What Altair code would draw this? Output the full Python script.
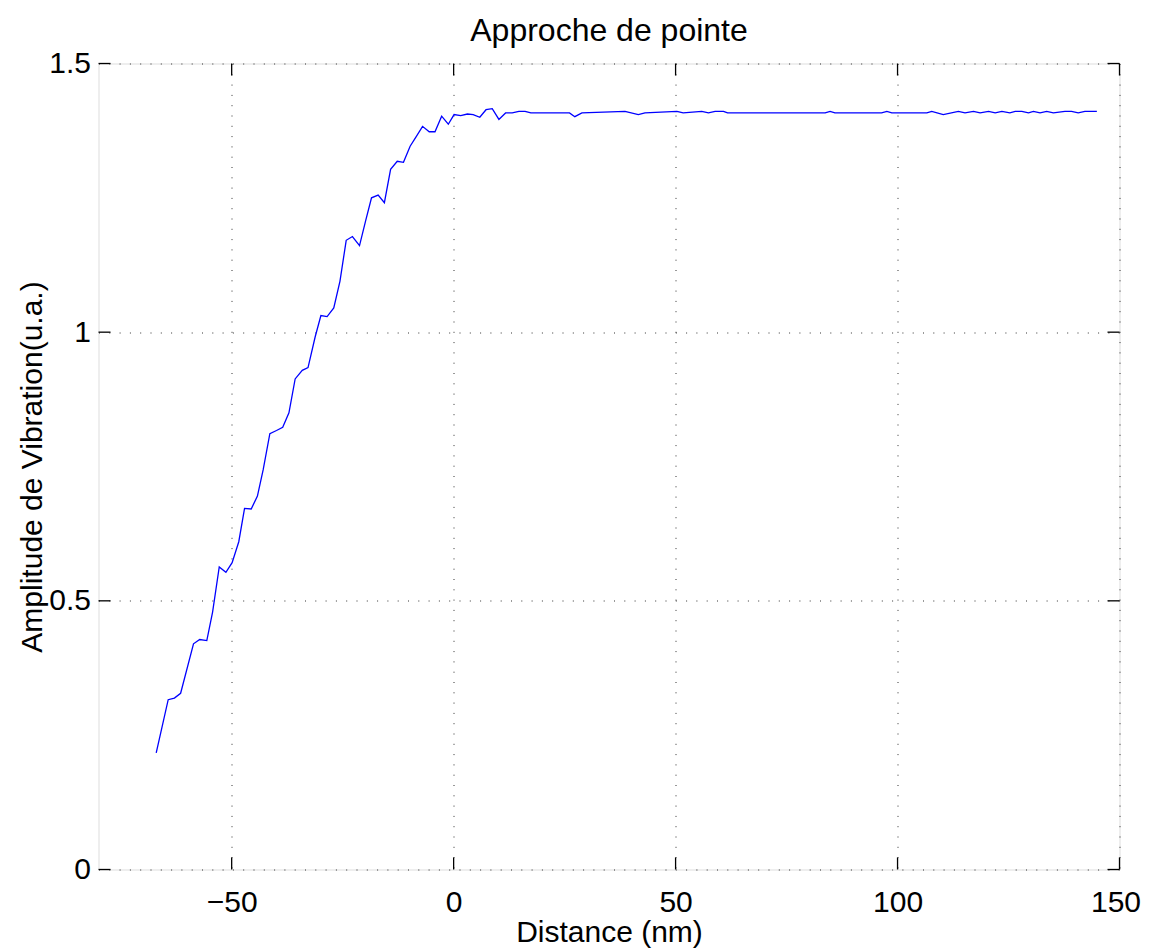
import altair as alt
import pandas as pd

# Data
distance_nm = [-67.0, -64.3, -62.9, -61.5, -58.6, -57.2, -55.6, -54.3, -52.8, -51.3,
               -49.9, -48.4, -47.1, -45.6, -44.2, -42.9, -41.4, -39.9, -38.5, -37.1,
               -35.7, -34.1, -32.8, -31.2, -29.9, -28.5, -27.0, -25.6, -24.2, -22.8,
               -21.2, -19.8, -18.5, -17.0, -15.6, -14.2, -12.7, -11.3, -9.8, -8.5,
               -7.0, -5.5, -4.2, -2.7, -1.2, 0.1, 1.6, 3.1, 4.4, 5.9,
               7.3, 8.7, 10.2, 11.7, 13.2, 14.7, 16.1, 17.4, 26.1, 27.3,
               28.9, 38.6, 41.6, 43.1, 50.3, 51.7, 55.9, 57.4, 58.9, 60.8,
               61.7, 83.7, 84.8, 85.9, 96.4, 97.6, 98.7, 106.6, 107.7, 110.3,
               113.7, 115.2, 117.1, 118.6, 120.5, 122.0, 123.5, 125.3, 126.5, 128.0,
               129.5, 130.6, 132.1, 133.6, 135.1, 137.7, 139.2, 140.7, 142.2, 144.9]
amplitude = [0.217, 0.316, 0.319, 0.328, 0.420, 0.428, 0.426, 0.479, 0.563, 0.553,
             0.571, 0.610, 0.672, 0.671, 0.695, 0.744, 0.811, 0.817, 0.823, 0.850,
             0.913, 0.929, 0.934, 0.991, 1.031, 1.029, 1.045, 1.095, 1.171, 1.178,
             1.161, 1.208, 1.250, 1.255, 1.241, 1.303, 1.318, 1.316, 1.346, 1.363,
             1.383, 1.373, 1.373, 1.402, 1.387, 1.405, 1.403, 1.406, 1.405, 1.400,
             1.414, 1.416, 1.396, 1.408, 1.408, 1.411, 1.411, 1.408, 1.408, 1.401,
             1.408, 1.411, 1.405, 1.408, 1.411, 1.408, 1.411, 1.408, 1.411, 1.411,
             1.408, 1.408, 1.411, 1.408, 1.408, 1.411, 1.408, 1.408, 1.411, 1.405,
             1.411, 1.408, 1.411, 1.408, 1.411, 1.408, 1.411, 1.408, 1.411, 1.411,
             1.408, 1.411, 1.408, 1.411, 1.408, 1.411, 1.411, 1.408, 1.411, 1.411]
x_ticks = [-50, 0, 50, 100, 150]
y_ticks = [0, 0.5, 1, 1.5]
title_text = ["Approche de pointe"]

W, H = 1021, 806
TICK = 12
FONT = "Liberation Sans"

df = pd.DataFrame({"x": distance_nm, "y": amplitude})
xt = pd.DataFrame({"x": x_ticks})
yt = pd.DataFrame({"y": y_ticks})
tt = pd.DataFrame({"t": title_text})

xscale = alt.Scale(domain=[-80, 150], nice=False, zero=False)
yscale = alt.Scale(domain=[0, 1.5], nice=False, zero=False)

xaxis = alt.Axis(values=x_ticks, format="d", grid=True, gridColor="#000000",
                 gridDash=[1, 9.3], gridWidth=1, gridOpacity=0.8,
                 ticks=False, tickSize=0, domain=False,
                 labelFont=FONT, labelFontSize=30, labelColor="#000000",
                 labelPadding=18, labelFlush=False,
                 labelOffset={"condition": {"test": "datum.value == 150", "value": -4},
                              "value": 0},
                 title="Distance (nm)", titleFont=FONT, titleFontSize=30,
                 titleFontWeight="normal", titleColor="#000000",
                 titleBaseline="alphabetic", titleY=72, titleX=W / 2)
yaxis = alt.Axis(values=y_ticks, format="~g", grid=True, gridColor="#000000",
                 gridDash=[1, 9.3], gridWidth=1, gridOpacity=0.8,
                 ticks=False, tickSize=0, domain=False,
                 labelFont=FONT, labelFontSize=30, labelColor="#000000",
                 labelPadding=8, labelFlush=False,
                 title="Amplitude de Vibration(u.a.)", titleFont=FONT,
                 titleFontSize=30, titleFontWeight="normal", titleColor="#000000",
                 titleAngle=-90, titleBaseline="alphabetic",
                 titleX=-57, titleY=H / 2, titleAlign="center")

line = alt.Chart(df).mark_line(color="#0000ff", strokeWidth=1.3).encode(
    x=alt.X("x:Q", scale=xscale, axis=xaxis),
    y=alt.Y("y:Q", scale=yscale, axis=yaxis),
)

tick_style = dict(color="#000000", strokeWidth=1.3)
bottom_ticks = alt.Chart(xt).mark_rule(**tick_style).encode(
    x=alt.X("x:Q", scale=xscale), y=alt.value(H), y2=alt.value(H - TICK))
top_ticks = alt.Chart(xt).mark_rule(**tick_style).encode(
    x=alt.X("x:Q", scale=xscale), y=alt.value(0), y2=alt.value(TICK))
left_ticks = alt.Chart(yt).mark_rule(**tick_style).encode(
    y=alt.Y("y:Q", scale=yscale), x=alt.value(0), x2=alt.value(TICK))
right_ticks = alt.Chart(yt).mark_rule(**tick_style).encode(
    y=alt.Y("y:Q", scale=yscale), x=alt.value(W), x2=alt.value(W - TICK))

title = alt.Chart(tt).mark_text(font=FONT, fontSize=32, color="#000000",
                                align="center", baseline="alphabetic").encode(
    text="t:N", x=alt.value(W / 2), y=alt.value(-23))

chart = alt.layer(line, bottom_ticks, top_ticks, left_ticks, right_ticks, title).properties(
    width=W, height=H,
    autosize=alt.AutoSizeParams(type="none"),
    padding={"left": 90.5, "top": 55.5, "right": 23.5, "bottom": 78},
).configure_view(stroke="#000000", strokeWidth=1.3).configure(background="#ffffff")

chart.save("out.html", embed_options={"renderer": "svg", "actions": False})
